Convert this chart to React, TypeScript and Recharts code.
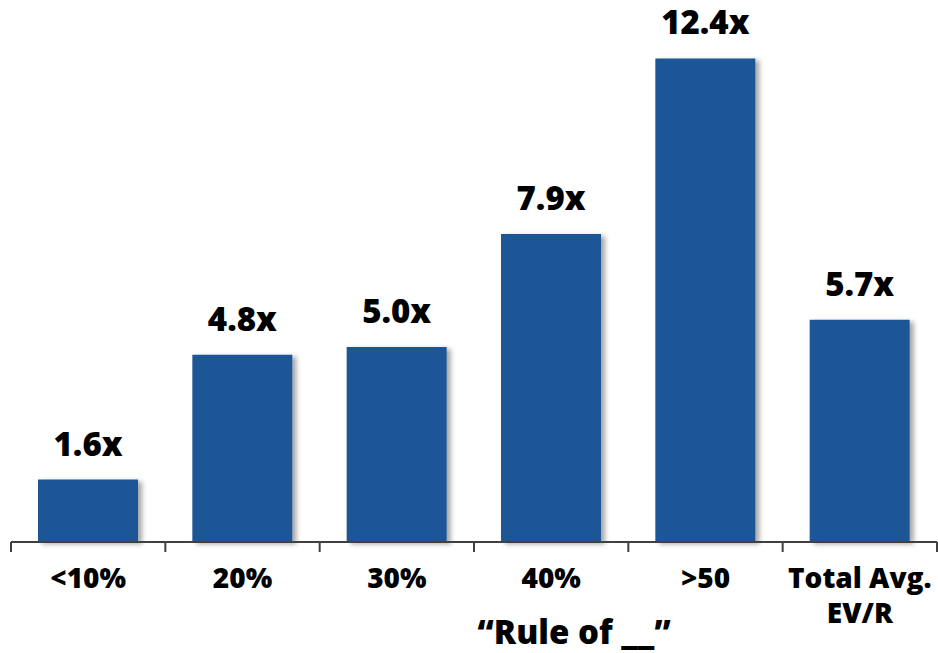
import React from "react"
import { Bar, BarChart, LabelList, XAxis, YAxis } from "recharts"

const categories = ["<10%", "20%", "30%", "40%", ">50", "Total Avg.\nEV/R"]
const multiples = [1.6, 4.8, 5.0, 7.9, 12.4, 5.7]
const valueLabels = ["1.6x", "4.8x", "5.0x", "7.9x", "12.4x", "5.7x"]

const data = categories.map((name, i) => ({
  name,
  value: multiples[i],
  label: valueLabels[i],
}))

const FONT = "'Open Sans', 'DejaVu Sans', sans-serif"
const BAR_COLOR = "#1B5797"

function CategoryTick(props: any) {
  const { x, y, payload } = props
  const lines = String(payload.value).split("\n")
  return (
    <g>
      {lines.map((line, i) => (
        <text
          key={i}
          x={x}
          y={y + 38 + i * 35}
          textAnchor="middle"
          fontFamily={FONT}
          fontWeight={800}
          fontSize={28}
          fill="#000"
        >
          {line}
        </text>
      ))}
    </g>
  )
}

export default function App() {
  return (
    <div style={{ position: "absolute", left: 0, top: 0, background: "#fff" }}>
      <BarChart
        width={938}
        height={653}
        data={data}
        margin={{ top: 35, right: 1, bottom: 81, left: 11 }}
      >
        <defs>
          <filter id="barShadow" x="-10%" y="-10%" width="130%" height="120%">
            <feDropShadow dx={4} dy={2} stdDeviation={2.5} floodColor="#000" floodOpacity={0.35} />
          </filter>
        </defs>
        <YAxis hide domain={[0, 13]} />
        <XAxis
          dataKey="name"
          height={30}
          interval={0}
          axisLine={{ stroke: "#404040", strokeWidth: 2 }}
          tickLine={false}
          tick={<CategoryTick />}
        />
        <Bar
          dataKey="value"
          fill={BAR_COLOR}
          barSize={100}
          filter="url(#barShadow)"
          isAnimationActive={false}
        >
          <LabelList
            dataKey="label"
            position="top"
            offset={24}
            fill="#000"
            fontFamily={FONT}
            fontWeight={800}
            fontSize={33}
          />
        </Bar>
        {/* category boundary ticks */}
        {Array.from({ length: categories.length + 1 }).map((_, i) => {
          const x = 11 + (i * 926) / categories.length
          return <line key={i} x1={x} x2={x} y1={542} y2={552} stroke="#404040" strokeWidth={2} />
        })}
        <text
          x={574}
          y={644}
          textAnchor="middle"
          fontFamily={FONT}
          fontWeight={800}
          fontSize={33}
          fill="#000"
        >
          “Rule of __”
        </text>
      </BarChart>
    </div>
  )
}
